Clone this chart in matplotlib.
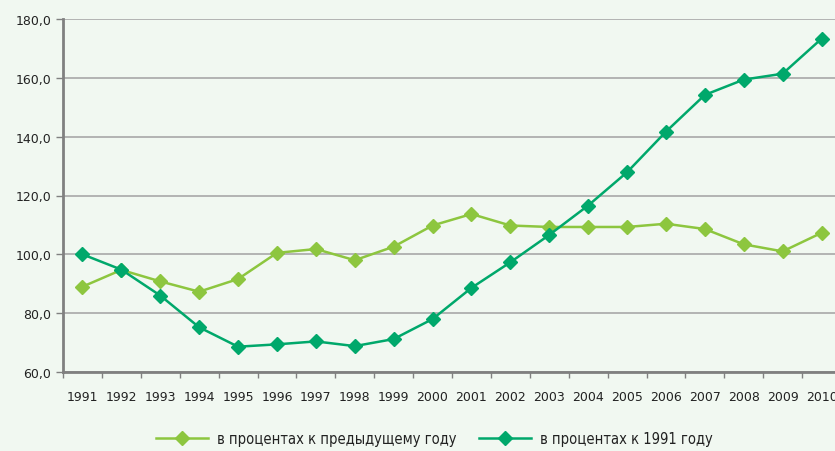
import numpy as np
import matplotlib.pyplot as plt
from matplotlib.ticker import FixedLocator, FuncFormatter

years = [str(y) for y in range(1991, 2011)]
prev_year = [89.0, 94.7, 90.8, 87.3, 91.6, 100.5, 101.8, 98.0, 102.6, 109.8,
             113.7, 109.8, 109.3, 109.3, 109.3, 110.4, 108.6, 103.4, 101.0, 107.3]
to_1991 = [100.0, 94.8, 86.0, 75.2, 68.6, 69.4, 70.4, 68.8, 71.2, 78.0,
           88.6, 97.3, 106.6, 116.6, 127.9, 141.7, 154.2, 159.4, 161.4, 173.3]

bg = "#f1f8f1"
light = "#8dc63f"
dark = "#00a86b"

fig = plt.figure(figsize=(8.35, 4.52), dpi=100, facecolor=bg)
ax = fig.add_axes([63 / 835, 79 / 452, 778 / 835, 353 / 452])
ax.set_facecolor(bg)

x = np.arange(len(years))
ax.plot(x, prev_year, color=light, lw=1.8, marker="D", ms=7, zorder=3,
        label="в процентах к предыдущему году")
ax.plot(x, to_1991, color=dark, lw=1.8, marker="D", ms=7, zorder=4,
        label="в процентах к 1991 году")

ax.set_ylim(60, 180)
ax.set_xlim(-0.5, len(years) - 0.5)
ax.set_yticks(np.arange(60, 181, 20))
ax.yaxis.set_major_formatter(FuncFormatter(lambda v, p: f"{v:.1f}".replace(".", ",")))
ax.set_xticks(x)
ax.set_xticklabels(years)
ax.xaxis.set_minor_locator(FixedLocator(np.arange(-0.5, len(years), 1)))
ax.tick_params(axis="x", which="major", length=0, pad=13, labelsize=9, colors="#222222")
ax.tick_params(axis="x", which="minor", length=4, color="#808080", width=1)
ax.tick_params(axis="y", length=5, width=1, labelsize=9, colors="#808080", labelcolor="#222222")

ax.grid(axis="y", color="#a8a8a8", lw=1.2)
ax.set_axisbelow(True)
for s in ["top", "right"]:
    ax.spines[s].set_visible(False)
for s in ["left", "bottom"]:
    ax.spines[s].set_color("#808080")
    ax.spines[s].set_linewidth(2)

leg = fig.legend(loc="center", bbox_to_anchor=(0.52, 0.027), ncol=2, frameon=False,
                 handlelength=3.6, columnspacing=1.5, handletextpad=0.6,
                 prop={"family": "DejaVu Sans", "stretch": "condensed", "size": 10.5})
for t in leg.get_texts():
    t.set_color("#222222")

plt.savefig("out.png", dpi=100, facecolor=bg)
